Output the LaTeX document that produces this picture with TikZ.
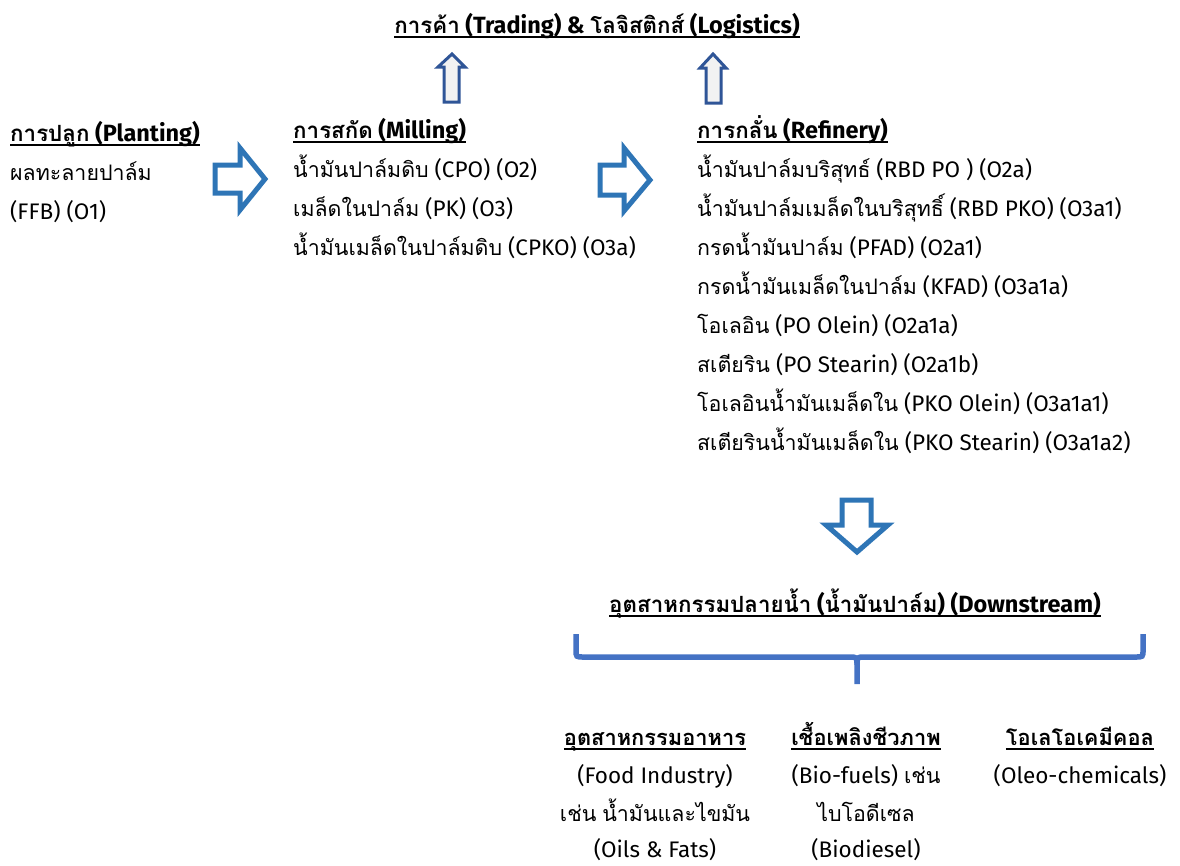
\documentclass[tikz,border=0pt]{standalone}
\usepackage{fontspec}
\setmainfont{Fira Sans}
\newfontfamily\thaifont[Script=Thai,Scale=0.95]{Loma}
\XeTeXinterchartokenstate=1
\newXeTeXintercharclass\ThaiCls
\makeatletter
\@tempcnta="0E00
\loop\ifnum\@tempcnta<"0E80 \XeTeXcharclass\@tempcnta=\ThaiCls \advance\@tempcnta 1 \repeat
\makeatother
\XeTeXinterchartoks 0 \ThaiCls = {\begingroup\thaifont}
\XeTeXinterchartoks 4095 \ThaiCls = {\begingroup\thaifont}
\XeTeXinterchartoks \ThaiCls 0 = {\endgroup}
\XeTeXinterchartoks \ThaiCls 4095 = {\endgroup}
\newcommand\myul[1]{\setbox0\hbox{#1}\rlap{\vrule height -3pt depth 5pt width \wd0}\box0}
\definecolor{arrowblue}{HTML}{2E75B6}
\definecolor{bracecol}{HTML}{4472C4}
\definecolor{updark}{HTML}{2F5597}
\definecolor{upfill}{HTML}{F2F2F2}
\begin{document}
\begin{tikzpicture}[x=1pt,y=-1pt,
  every node/.style={inner sep=0pt, font=\fontsize{22.5}{26}\selectfont},
  txt/.style={anchor=base west},
  ctr/.style={anchor=base},
  hd/.style={font=\fontsize{23.5}{27}\selectfont\bfseries},
  hdth/.style={font=\fontsize{23}{27}\selectfont\bfseries},
  blockarrow/.style={draw=arrowblue, line width=5pt, fill=white, line join=miter},
  uparrow/.style={draw=updark, line width=3pt, fill=upfill, line join=miter},
  bracestyle/.style={draw=bracecol, line width=5.5pt, line cap=butt}]
\useasboundingbox (0,0) rectangle (1180,865);
% title
\node[ctr,hd] (title) at (597,33) {\myul{การค้า (Trading) \& โลจิสติกส์ (Logistics)}};
% up arrows
\draw[uparrow] (452,54) -- (465,67) -- (459,67) -- (459,102) -- (444,102) -- (444,67) -- (438,67) -- cycle;
\draw[uparrow] (713,54) -- (726,68) -- (721,68) -- (721,103) -- (706,103) -- (706,68) -- (700,68) -- cycle;
% planting
\node[txt,hd] (p0) at (10,141) {\myul{การปลูก (Planting)}};
\node[txt] (p1) at (10,180) {ผลทะลายปาล์ม};
\node[txt] (p2) at (10,219) {(FFB) (O1)};
% right arrows
\draw[blockarrow] (215,165) -- (240,165) -- (240,148) -- (265,179) -- (240,210) -- (240,193) -- (215,193) -- cycle;
\draw[blockarrow] (600,165) -- (624,165) -- (624,148) -- (650,180) -- (624,211) -- (624,195) -- (600,195) -- cycle;
% milling
\node[txt,hd] (m0) at (293,138) {\myul{การสกัด (Milling)}};
\node[txt] (m1) at (293,177) {น้ำมันปาล์มดิบ (CPO) (O2)};
\node[txt] (m2) at (293,216) {เมล็ดในปาล์ม (PK) (O3)};
\node[txt] (m3) at (293,255) {น้ำมันเมล็ดในปาล์มดิบ (CPKO) (O3a)};
% refinery
\node[txt,hd] (r0) at (697,138) {\myul{การกลั่น (Refinery)}};
\node[txt] (r1) at (697,177) {น้ำมันปาล์มบริสุทธ์ (RBD PO ) (O2a)};
\node[txt] (r2) at (697,216) {น้ำมันปาล์มเมล็ดในบริสุทธิ์ (RBD PKO) (O3a1)};
\node[txt] (r3) at (697,255) {กรดน้ำมันปาล์ม (PFAD) (O2a1)};
\node[txt] (r4) at (697,294) {กรดน้ำมันเมล็ดในปาล์ม (KFAD) (O3a1a)};
\node[txt] (r5) at (697,333) {โอเลอิน (PO Olein) (O2a1a)};
\node[txt] (r6) at (697,372) {สเตียริน (PO Stearin) (O2a1b)};
\node[txt] (r7) at (697,411) {โอเลอินน้ำมันเมล็ดใน (PKO Olein) (O3a1a1)};
\node[txt] (r8) at (697,450) {สเตียรินน้ำมันเมล็ดใน (PKO Stearin) (O3a1a2)};
% down arrow
\draw[blockarrow] (842,500) -- (871,500) -- (871,525) -- (888,525) -- (857,552) -- (826,525) -- (842,525) -- cycle;
% downstream
\node[ctr,hd] (ds) at (855,612) {\myul{อุตสาหกรรมปลายน้ำ (น้ำมันปาล์ม) (Downstream)}};
% brace
\draw[bracestyle] (576,634) -- (576,650) .. controls (576,657) .. (584,657) -- (849,657) .. controls (857,657) .. (857,665) -- (857,684);
\draw[bracestyle] (1143,634) -- (1143,650) .. controls (1143,657) .. (1135,657) -- (865,657) .. controls (857,657) .. (857,665);
% columns
\node[ctr,hdth] (f0) at (655,745) {\myul{อุตสาหกรรมอาหาร}};
\node[ctr] (f1) at (655,783) {(Food Industry)};
\node[ctr] (f2) at (655,821) {เช่น น้ำมันและไขมัน};
\node[ctr] (f3) at (655,857) {(Oils \& Fats)};
\node[ctr,hdth] (b0) at (866,745) {\myul{เชื้อเพลิงชีวภาพ}};
\node[ctr] (b1) at (866,783) {(Bio-fuels) เช่น};
\node[ctr] (b2) at (866,821) {ไบโอดีเซล};
\node[ctr] (b3) at (866,857) {(Biodiesel)};
\node[ctr,hdth] (o0) at (1080,745) {\myul{โอเลโอเคมีคอล}};
\node[ctr] (o1) at (1080,783) {(Oleo-chemicals)};
\end{tikzpicture}
\end{document}
